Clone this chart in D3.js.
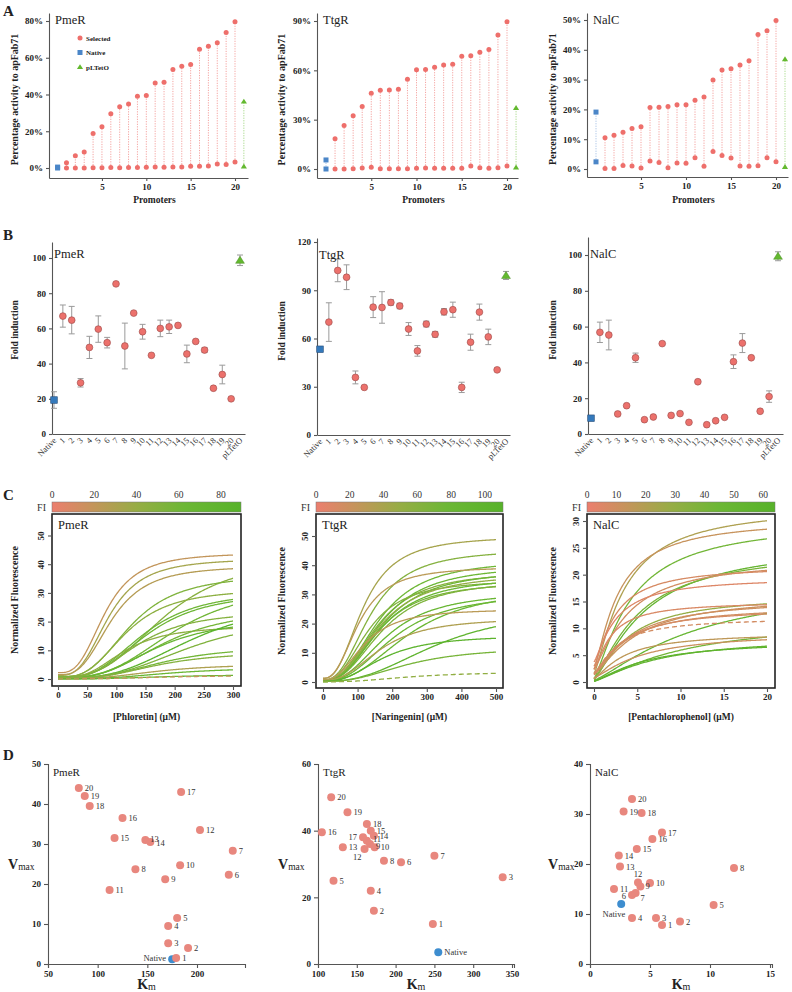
<!DOCTYPE html>
<html><head><meta charset="utf-8">
<script src="https://cdn.jsdelivr.net/npm/d3@7"></script>
<style>body{margin:0;background:#fff}svg{display:block}text{font-family:"Liberation Serif","Times New Roman",serif}</style>
</head><body><svg id="c" width="792" height="992"></svg>
<script>
// ================= DATA =================
const promoterLabels = ["1","2","3","4","5","6","7","8","9","10","11","12","13","14","15","16","17","18","19","20"];
const categoryLabels = ["Native", ...promoterLabels, "pLTetO"];
const legendLabels = ["Selected","Native","pLTetO"];
const panelNames = ["PmeR","TtgR","NalC"];

// Panel A : percentage activity (top = induced, bottom = uninduced)
const aPmeRTop = [2.9,6.7,8.7,18.8,22.4,29.5,33.3,34.8,39.1,39.5,46.3,46.7,53.6,55.4,56.3,64.6,66.2,68.1,73.8,79.6];
const aPmeRBot = [0,0,0,0.2,0.2,0.3,0.1,0.3,0.3,0.4,0.6,0.4,0.5,0.6,0.9,1.0,1.1,2.2,1.9,3.3];
const aPmeRNative = [0.5,0];
const aPmeRTet = [36.2,0.9];
const aTtgRTop = [18.4,26.5,32.4,38.0,46.1,47.9,48.1,48.5,54.6,60.3,60.5,61.9,63.3,63.7,68.6,68.8,71.0,72.6,81.5,89.6];
const aTtgRBot = [0,0,0.2,0.6,1.0,0.2,0.2,0.1,0.2,0.4,0.6,0.4,0.4,0.4,0.4,1.8,0.8,0.4,0.8,1.8];
const aTtgRNative = [5.5,0];
const aTtgRTet = [37.2,1.0];
const aNalCTop = [10.5,11.3,12.3,13.6,14.2,20.6,20.7,21.0,21.6,21.6,23.1,24.2,29.9,33.2,33.6,34.9,36.3,45.1,46.4,49.8];
const aNalCBot = [0.2,0.2,1.2,1.0,0.3,2.7,2.2,0.4,2.0,1.9,3.8,0.9,5.9,4.5,3.7,1.0,0.9,1.1,3.8,2.4];
const aNalCNative = [19.1,2.4];
const aNalCTet = [36.9,0.7];
const aPmeRTicks = [0,20,40,60,80], aTtgRTicks = [0,30,60,90], aNalCTicks = [0,10,20,30,40,50];
const aXTicks = [5,10,15,20];

// Panel B : fold induction (Native, 1..20, pLTetO) and error
const bPmeRFold = [19.3,67.0,64.7,29.1,49.2,59.6,51.9,85.3,50.0,68.7,58.1,44.7,60.0,60.9,61.7,45.5,52.6,47.7,26.0,33.8,20.0,98.7];
const bPmeRErr  = [4.7,6.3,7.8,2.4,6.3,7.5,3.0,0,13,0,4.2,0,4.7,3.8,0,5.0,0,1.3,0,5.3,0,3.0];
const bTtgRFold = [53.3,70.2,102.3,98.1,35.8,29.6,79.5,79.3,82.4,80.2,65.9,52.3,69.0,62.6,76.6,77.9,29.6,57.7,76.4,61.0,40.5,99.2];
const bTtgRErr  = [0,12,7,7.7,4,0,6.5,9.8,1.7,1.7,4,3.3,1.8,1.8,2,4.7,3.2,5,5,4.8,0,2.5];
const bNalCFold = [8.8,56.8,55.3,11.2,15.8,42.6,8.0,9.5,50.5,10.4,11.4,6.5,29.2,5.2,7.4,9.3,40.4,50.8,42.6,12.7,20.9,99.3];
const bNalCErr  = [0,5.7,8.3,0,0,2.6,0,0,0,0,0,0,0,0,0,0,3.8,5.3,0,0,3.2,2.5];
const bPmeRTicks = [0,20,40,60,80,100], bTtgRTicks = [0,30,60,90,120], bNalCTicks = [0,20,40,60,80,100];

// Panel D : Km and Vmax (Native, 1..20) -> also used for fitted curves of panel C
const dPmeRKm   = [175,179,191,171,171,180,232,236,138,168,183,112,203,148,153,117,125,184,92,87,81];
const dPmeRVmax = [1.2,1.5,4,5.2,9.5,11.5,22.3,28.3,23.7,21.2,24.7,18.5,33.5,31,30.5,31.5,36.5,43,39.5,42,44];
const dTtgRKm   = [255,248,172,338,168,120,207,250,185,167,173,163,160,132,172,168,105,158,163,138,117];
const dTtgRVmax = [3.5,12,16,26,22,25,30.5,32.5,31,36,35,37,34.5,35,38.5,40,39.5,38,42,45.5,50];
const dNalCKm   = [2.6,6.0,7.5,5.5,3.5,10.3,3.5,3.8,12.0,4.2,5.0,2.0,4.0,2.5,2.4,3.9,5.2,6.0,4.3,2.8,3.5];
const dNalCVmax = [12,7.8,8.5,9.2,9.2,11.8,13.8,14.2,19.2,15.5,16.2,15,16.3,19.5,21.7,23,25,26.3,30.2,30.5,33];
const dPmeRXTicks = [50,100,150,200], dPmeRYTicks = [0,10,20,30,40,50];
const dTtgRXTicks = [100,150,200,250,300,350], dTtgRYTicks = [0,20,40,60];
const dNalCXTicks = [0,5,10,15], dNalCYTicks = [0,10,20,30,40];

// Panel C : Hill coefficients, FI colour bar ranges, ticks
const cHill = [3, 2.5, 1.3];
const cFIMax = [89.5, 110.7, 64];
const cFITicks = [[0,20,40,60,80],[0,20,40,60,80,100],[0,10,20,30,40,50,60]];
const cXMax = [300, 500, 20];
const cXTicks = [[0,50,100,150,200,250,300],[0,100,200,300,400,500],[0,5,10,15,20]];
const cYTicks = [[0,10,20,30,40,50],[0,10,20,30,40,50],[0,5,10,15,20,25,30]];
const cXLabels = ["[Phloretin] (\u03bcM)","[Naringenin] (\u03bcM)","[Pentachlorophenol] (\u03bcM)"];
const fiStops = [0,0.22,0.45,0.7,1];
const fiColors = ["#ec7e6e","#c3955a","#96ad45","#6cb735","#57b22a"];

// ================= DRAW =================
const svg = d3.select("#c");
const RED = "#ee6f6b", BLUE = "#4b86c8", GREEN = "#63b92f";

function styleAxis(sel, size){
  sel.selectAll("path,line").attr("stroke","#555").attr("stroke-width",1.1);
  sel.selectAll("text").attr("fill","#222").attr("font-weight","bold").attr("font-size",size||9)
     .attr("font-family",'"Liberation Serif",serif');
}
function label(x,y,s,o={}){
  const t = svg.append("text").attr("x",x).attr("y",y).text(s)
    .attr("font-size",o.size||10).attr("font-weight",o.bold?"bold":"normal")
    .attr("fill",o.fill||"#222").attr("text-anchor",o.anchor||"start");
  if(o.rot) t.attr("transform",`rotate(${o.rot},${x},${y})`);
  return t;
}
function tri(x,y,s){ return `M${x},${y-s}L${x+s*1.1},${y+s*0.75}L${x-s*1.1},${y+s*0.75}Z`; }

// ---------- Panel A ----------
function drawA(c){
  const x = d3.scaleLinear().domain([0,20]).range(c.xr);
  const y0 = d3.scaleLinear().domain([0,c.ticks[c.ticks.length-1]]).range(c.yr);
  const y = d3.scaleLinear().domain([y0.invert(c.axisY), y0.invert(c.yTop)]).range([c.axisY, c.yTop]);
  const xa = d3.scaleLinear().domain([x.invert(c.axisX), x.invert(c.xEnd)]).range([c.axisX, c.xEnd]);
  svg.append("g").attr("transform",`translate(0,${c.axisY})`)
     .call(d3.axisBottom(xa).tickValues(aXTicks).tickSize(3).tickSizeOuter(0)).call(styleAxis);
  svg.append("g").attr("transform",`translate(${c.axisX},0)`)
     .call(d3.axisLeft(y).tickValues(c.ticks).tickFormat(d=>d+"%").tickSize(3).tickSizeOuter(0)).call(styleAxis);
  const g = svg.append("g");
  c.top.forEach((v,i)=>{
    g.append("line").attr("x1",x(i+1)).attr("x2",x(i+1)).attr("y1",y(c.bot[i])).attr("y2",y(v))
     .attr("stroke","#f4a3a0").attr("stroke-width",1).attr("stroke-dasharray","1.2,1.3");
  });
  g.append("line").attr("x1",x(0)).attr("x2",x(0)).attr("y1",y(c.nat[1])).attr("y2",y(c.nat[0]))
   .attr("stroke","#a9c3e6").attr("stroke-width",1).attr("stroke-dasharray","1.2,1.3");
  g.append("line").attr("x1",x(21)).attr("x2",x(21)).attr("y1",y(c.tet[1])).attr("y2",y(c.tet[0]))
   .attr("stroke","#a8d98a").attr("stroke-width",1).attr("stroke-dasharray","1.2,1.3");
  [c.top,c.bot].forEach(arr=>arr.forEach((v,i)=>{
    g.append("circle").attr("cx",x(i+1)).attr("cy",y(v)).attr("r",2.5).attr("fill",RED);
  }));
  c.nat.forEach(v=> g.append("rect").attr("x",x(0)-2.5).attr("y",y(v)-2.5).attr("width",5).attr("height",5).attr("fill",BLUE));
  c.tet.forEach(v=> g.append("path").attr("d",tri(x(21),y(v),2.8)).attr("fill",GREEN));
  label(c.axisX+6, 24, c.title, {size:12.5});
  label(c.ylabX, (c.axisY+c.yTop)/2+4, "Percentage activity to apFab71", {bold:true,size:10,anchor:"middle",rot:-90});
  label((c.axisX+c.xEnd)/2+6, 203, "Promoters", {bold:true,size:9.5,anchor:"middle"});
  if(c.legend){
    const lx = c.axisX+31;
    g.append("circle").attr("cx",lx).attr("cy",38).attr("r",2.5).attr("fill",RED);
    g.append("rect").attr("x",lx-2.5).attr("y",50).attr("width",5).attr("height",5).attr("fill",BLUE);
    g.append("path").attr("d",tri(lx,67,2.8)).attr("fill",GREEN);
    legendLabels.forEach((s,i)=> label(lx+6, 40.5+i*14.5, s, {bold:true,size:7}));
  }
}
drawA({title:"PmeR",xr:[57.6,235],axisX:49,xEnd:248,axisY:178,yTop:13,yr:[168,21],ticks:aPmeRTicks,
  top:aPmeRTop,bot:aPmeRBot,nat:aPmeRNative,tet:aPmeRTet,ylabX:18,legend:true});
drawA({title:"TtgR",xr:[326,507],axisX:317,xEnd:518,axisY:178,yTop:13,yr:[169,21],ticks:aTtgRTicks,
  top:aTtgRTop,bot:aTtgRBot,nat:aTtgRNative,tet:aTtgRTet,ylabX:285});
drawA({title:"NalC",xr:[596,776],axisX:587,xEnd:788,axisY:177,yTop:13,yr:[169,20],ticks:aNalCTicks,
  top:aNalCTop,bot:aNalCBot,nat:aNalCNative,tet:aNalCTet,ylabX:556});
label(3,16,"A",{bold:true,size:15});

// ---------- Panel B ----------
function drawB(c){
  const x = d3.scaleLinear().domain([0,21]).range(c.xr);
  const y0 = d3.scaleLinear().domain([0,c.ticks[c.ticks.length-1]]).range(c.yr);
  const y = d3.scaleLinear().domain([0, y0.invert(c.yTop)]).range([c.axisY, c.yTop]);
  const xa = d3.scaleLinear().domain([x.invert(c.axisX), x.invert(c.xEnd)]).range([c.axisX,c.xEnd]);
  svg.append("g").attr("transform",`translate(0,${c.axisY})`)
     .call(d3.axisBottom(xa).tickValues([]).tickSizeOuter(0)).call(styleAxis);
  svg.append("g").attr("transform",`translate(${c.axisX},0)`)
     .call(d3.axisLeft(y).tickValues(c.ticks).tickSize(3).tickSizeOuter(0)).call(styleAxis);
  categoryLabels.forEach((s,i)=>{
    label(x(i)+3, c.axisY+7, s, {size:8.5,anchor:"end",rot:-45,fill:"#333"});
  });
  const g = svg.append("g");
  c.fold.forEach((v,i)=>{
    const e = c.err[i];
    if(e>0){
      const xx = x(i);
      g.append("line").attr("x1",xx).attr("x2",xx).attr("y1",y(v-e)).attr("y2",y(v+e)).attr("stroke","#9a9a9a").attr("stroke-width",1);
      [v-e,v+e].forEach(w=> g.append("line").attr("x1",xx-3).attr("x2",xx+3).attr("y1",y(w)).attr("y2",y(w)).attr("stroke","#9a9a9a").attr("stroke-width",1));
    }
  });
  c.fold.forEach((v,i)=>{
    if(i===0) g.append("rect").attr("x",x(i)-3.3).attr("y",y(v)-3.3).attr("width",6.6).attr("height",6.6)
                .attr("fill","#3479bb").attr("stroke","#2a4f7a").attr("stroke-width",0.6);
    else if(i===21) g.append("path").attr("d",tri(x(i),y(v),4)).attr("fill",GREEN).attr("stroke","#4a8a25").attr("stroke-width",0.5);
    else g.append("circle").attr("cx",x(i)).attr("cy",y(v)).attr("r",3.4).attr("fill","#ec716c").attr("stroke","#9b4a48").attr("stroke-width",0.6);
  });
  label(c.axisX+2, c.axisY-176, c.title, {size:12.5});
  label(c.ylabX, c.axisY-104, "Fold induction", {bold:true,size:9.5,anchor:"middle",rot:-90});
}
drawB({title:"PmeR",xr:[54,240],axisX:52,xEnd:245,axisY:434,yTop:242,yr:[434,258],ticks:bPmeRTicks,fold:bPmeRFold,err:bPmeRErr,ylabX:18});
drawB({title:"TtgR",xr:[320,506],axisX:317,xEnd:510,axisY:435,yTop:238,yr:[435,242],ticks:bTtgRTicks,fold:bTtgRFold,err:bTtgRErr,ylabX:285});
drawB({title:"NalC",xr:[591,778],axisX:588,xEnd:783,axisY:434,yTop:237,yr:[434,255],ticks:bNalCTicks,fold:bNalCFold,err:bNalCErr,ylabX:556});
label(3,240,"B",{bold:true,size:15});

// ---------- Panel C ----------
const defs = svg.append("defs");
function drawC(k, c){
  const x = d3.scaleLinear().domain([0,cXMax[k]]).range(c.xr);
  const yt = cYTicks[k];
  const y = d3.scaleLinear().domain([0,yt[yt.length-1]]).range(c.yr);
  const fiScale = d3.scaleLinear().domain([0,cFIMax[k]]).range([c.bx0,c.bx1]);
  const col = d3.scaleLinear().domain(fiStops.map(s=>s*cFIMax[k])).range(fiColors).clamp(true);
  const gid = "grad"+k;
  const gr = defs.append("linearGradient").attr("id",gid);
  fiStops.forEach((s,i)=> gr.append("stop").attr("offset",s).attr("stop-color",fiColors[i]));
  svg.append("rect").attr("x",c.bx0).attr("y",502).attr("width",c.bx1-c.bx0).attr("height",10)
     .attr("fill",`url(#${gid})`).attr("stroke","#777").attr("stroke-width",0.5);
  cFITicks[k].forEach(v=> label(fiScale(v), 498, v, {size:9.5,anchor:"middle",fill:"#333"}));
  label(c.bx0-6, 510.5, "FI", {size:10,anchor:"end",fill:"#333"});
  const clipId = "clip"+k;
  defs.append("clipPath").attr("id",clipId).append("rect").attr("x",c.bx0).attr("y",c.by0).attr("width",c.bx1-c.bx0).attr("height",c.by1-c.by0);
  const g = svg.append("g").attr("clip-path",`url(#${clipId})`);
  const xs = d3.range(0, 201).map(i=> i*cXMax[k]/200);
  const line = d3.line().x(d=>x(d[0])).y(d=>y(d[1]));
  d3.range(c.km.length).reverse().forEach(i=>{
    const vmax = c.vmax[i], km = c.km[i], fi = c.fi[i], n = cHill[k];
    const base = vmax/fi;
    const pts = xs.map(s=> [s, base + (vmax-base)*Math.pow(s,n)/(Math.pow(km,n)+Math.pow(s,n))]);
    g.append("path").attr("d",line(pts)).attr("fill","none").attr("stroke",col(fi))
     .attr("stroke-width",1.3).attr("stroke-dasharray", i===0 ? "5,3" : null);
  });
  svg.append("rect").attr("x",c.bx0).attr("y",c.by0).attr("width",c.bx1-c.bx0).attr("height",c.by1-c.by0)
     .attr("fill","none").attr("stroke","#222").attr("stroke-width",1.6);
  const ax = svg.append("g").attr("transform",`translate(0,${c.by1})`)
     .call(d3.axisBottom(x).tickValues(cXTicks[k]).tickSize(4).tickPadding(2)).call(styleAxis, 9);
  ax.select(".domain").remove();
  const ay = svg.append("g").attr("transform",`translate(${c.bx0},0)`)
     .call(d3.axisLeft(y).tickValues(yt).tickSize(4).tickPadding(3)).call(styleAxis, 9);
  ay.select(".domain").remove();
  ay.selectAll(".tick text").attr("transform","rotate(-90)").attr("text-anchor","middle").attr("x",0).attr("dy",0).attr("y",-8);
  label(c.bx0+6, c.by0+15, panelNames[k], {size:12.5});
  label(c.ylabX, (c.by0+c.by1)/2, "Normalized Fluorescence", {bold:true,size:10,anchor:"middle",rot:-90});
  label((c.bx0+c.bx1)/2, 720, cXLabels[k], {bold:true,size:9.5,anchor:"middle"});
}
drawC(0,{bx0:52,bx1:241,by0:514,by1:686,xr:[58,233],yr:[679,535.5],km:dPmeRKm,vmax:dPmeRVmax,fi:bPmeRFold,ylabX:18});
drawC(1,{bx0:316,bx1:503,by0:514,by1:688,xr:[323,496],yr:[682,536],km:dTtgRKm,vmax:dTtgRVmax,fi:bTtgRFold,ylabX:285});
drawC(2,{bx0:587,bx1:775,by0:514,by1:688,xr:[594,767],yr:[682,521],km:dNalCKm,vmax:dNalCVmax,fi:bNalCFold,ylabX:556});
label(3,500,"C",{bold:true,size:15});

// ---------- Panel D ----------
function drawD(k, c){
  const x0 = d3.scaleLinear().domain([c.xt[0], c.xt[c.xt.length-1]]).range(c.xr);
  const x = d3.scaleLinear().domain([c.xt[0], x0.invert(c.xEnd)]).range([c.xr[0], c.xEnd]);
  const y = d3.scaleLinear().domain([0, c.yt[c.yt.length-1]]).range(c.yr);
  svg.append("g").attr("transform",`translate(0,${c.yr[0]})`)
     .call(d3.axisBottom(x).tickValues(c.xt).tickSize(4)).call(styleAxis, 9);
  svg.append("g").attr("transform",`translate(${c.xr[0]},0)`)
     .call(d3.axisLeft(y).tickValues(c.yt).tickSize(4)).call(styleAxis, 9);
  const g = svg.append("g");
  c.km.forEach((km,i)=>{
    g.append("circle").attr("cx",x(km)).attr("cy",y(c.vmax[i])).attr("r",4).attr("fill", i===0 ? "#3d8dcf" : "#e8877e");
  });
  const pos = c.pos || {};
  c.km.forEach((km,i)=>{
    const px = x(km), py = y(c.vmax[i]);
    if(i===0) { label(px+c.nat[0], py+c.nat[1], "Native", {size:8.5,anchor:c.nat[2],fill:"#333"}); return; }
    const p = pos[i] || [6,3,"start"];
    label(px+p[0], py+p[1], promoterLabels[i-1], {size:8.5,fill:"#333",anchor:p[2]});
  });
  label(c.xr[0]+5, c.yr[1]+12, panelNames[k], {size:11});
  const v = svg.append("text").attr("x",c.vx).attr("y",(c.yr[0]+c.yr[1])/2+5).attr("fill","#222");
  v.append("tspan").text("V").attr("font-weight","bold").attr("font-size",14);
  v.append("tspan").text("max").attr("font-size",9.5).attr("dy",1);
  const km = svg.append("text").attr("x",(c.xr[0]+c.xEnd)/2).attr("y",c.yr[0]+25).attr("text-anchor","middle").attr("fill","#222");
  km.append("tspan").text("K").attr("font-weight","bold").attr("font-size",14);
  km.append("tspan").text("m").attr("font-size",10).attr("dy",1);
}
drawD(0,{xr:[48,197],xEnd:245,yr:[964,764],xt:dPmeRXTicks,yt:dPmeRYTicks,km:dPmeRKm,vmax:dPmeRVmax,nat:[-6,2,"end"],vx:8,
  pos:{13:[5,2,"start"],14:[6,4,"start"]}});
drawD(1,{xr:[318,512],xEnd:514,yr:[964,764],xt:dTtgRXTicks,yt:dTtgRYTicks,km:dTtgRKm,vmax:dTtgRVmax,nat:[6,3,"start"],vx:278,
  pos:{17:[-6,3,"end"],12:[-3,11,"end"],9:[6,5,"start"],11:[6,1,"start"]}});
drawD(2,{xr:[590,770],xEnd:772,yr:[964,764],xt:dNalCXTicks,yt:dNalCYTicks,km:dNalCKm,vmax:dNalCVmax,nat:[4,13,"end"],vx:548,
  pos:{6:[-6,4,"end"],7:[5,8,"start"],12:[0,-6,"middle"],9:[5,2,"start"]}});
label(3,760,"D",{bold:true,size:15});
</script></body></html>
